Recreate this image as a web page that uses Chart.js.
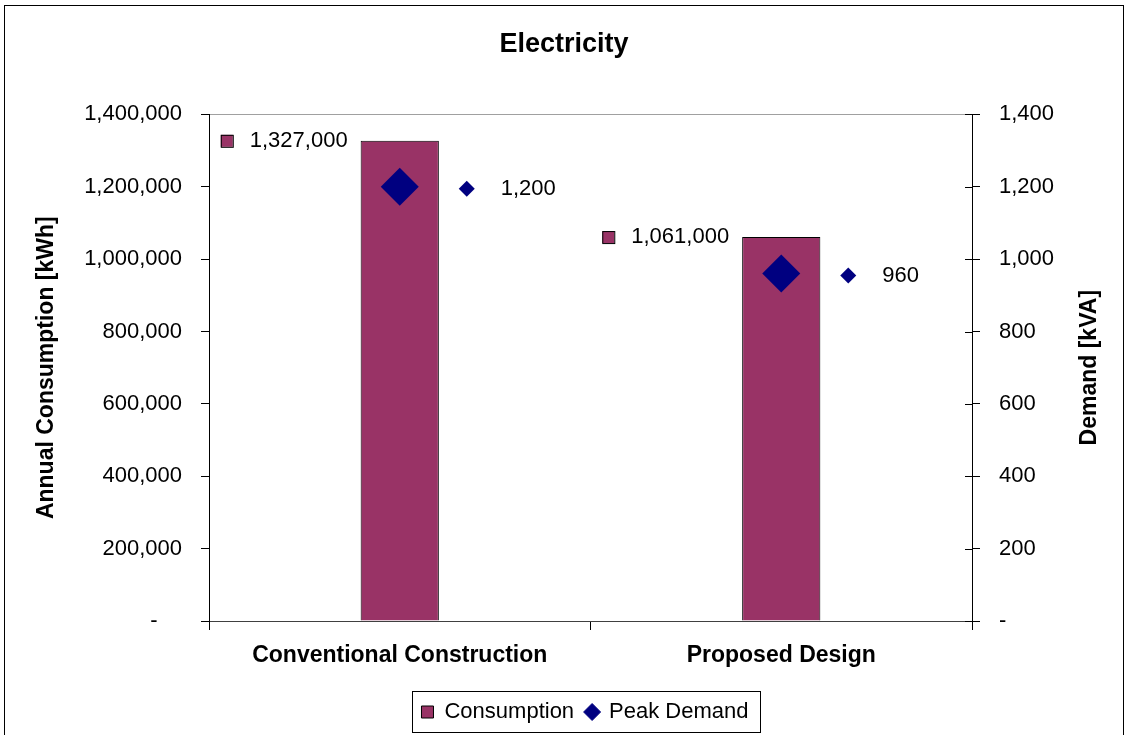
<!DOCTYPE html>
<html>
<head>
<meta charset="utf-8">
<title>Electricity</title>
<script src="https://cdn.jsdelivr.net/npm/chart.js@4.4.1/dist/chart.umd.min.js"></script>
<style>
  html, body { margin: 0; padding: 0; background: #fff; }
  #wrap { position: relative; width: 1128px; height: 735px; }
</style>
</head>
<body>
<div id="wrap"><canvas id="electricityChart"></canvas></div>
<script>
// --- Data ---
const categories = ["Conventional Construction", "Proposed Design"];
const consumption = [1327000, 1061000]; // kWh, left axis
const peakDemand = [1200, 960]; // kVA, right axis
const consumptionTicks = [0, 200000, 400000, 600000, 800000, 1000000, 1200000, 1400000];
const demandTicks = [0, 200, 400, 600, 800, 1000, 1200, 1400];

const barColor = "#993366";
const diamondColor = "#000080";
const fontFamily = "'Liberation Sans', Arial, sans-serif";

Chart.defaults.font.family = fontFamily;
Chart.defaults.color = "#000";

const fmt = (v) => Number(v).toLocaleString("en-US");

// Excel style labels with legend key, plus frame, right title and crossing ticks
const excelExtras = {
  id: "excelExtras",
  afterLayout(chart) {
    // nudge the legend to the right like the original
    chart.legend.left += 21;
    chart.legend.right += 21;
  },
  afterDatasetsDraw(chart) {
    const ctx = chart.ctx;
    ctx.save();
    ctx.font = "22px " + fontFamily;
    ctx.fillStyle = "#000";
    ctx.textBaseline = "middle";

    // consumption labels: key + value left of bar top
    chart.getDatasetMeta(0).data.forEach((bar, i) => {
      const textRight = bar.x - bar.width / 2 - 13;
      const text = fmt(consumption[i]);
      const w = ctx.measureText(text).width;
      ctx.textAlign = "right";
      ctx.fillStyle = "#000";
      ctx.fillText(text, textRight, bar.y);
      const kx = textRight - w - 23;
      ctx.fillStyle = barColor;
      ctx.fillRect(kx - 6, bar.y - 6, 12, 12);
      ctx.strokeStyle = "#000";
      ctx.lineWidth = 1;
      ctx.strokeRect(kx - 5.5, bar.y - 5.5, 12, 12);
    });

    // peak demand labels: key + value right of point
    chart.getDatasetMeta(1).data.forEach((pt, i) => {
      const cy = pt.y + 2;
      const kx = pt.x + 67;
      ctx.fillStyle = diamondColor;
      ctx.beginPath();
      ctx.moveTo(kx - 8, cy);
      ctx.lineTo(kx, cy - 8);
      ctx.lineTo(kx + 8, cy);
      ctx.lineTo(kx, cy + 8);
      ctx.closePath();
      ctx.fill();
      ctx.fillStyle = "#000";
      ctx.textAlign = "left";
      ctx.fillText(fmt(peakDemand[i]), pt.x + 101, cy);
    });
    ctx.restore();
  },
  afterDraw(chart) {
    const ctx = chart.ctx;
    const area = chart.chartArea;
    ctx.save();

    // outer chart frame
    ctx.strokeStyle = "#000";
    ctx.lineWidth = 1;
    ctx.strokeRect(4.5, 5.5, chart.width - 9, chart.height + 10);

    // crossing ticks on the right axis
    const y1 = chart.scales.y1;
    ctx.beginPath();
    y1.ticks.forEach((t) => {
      const py = Math.round(y1.getPixelForValue(t.value)) + 0.5;
      ctx.moveTo(area.right - 7, py);
      ctx.lineTo(area.right, py);
    });
    ctx.stroke();

    // right axis title, reading bottom to top
    ctx.font = "bold 23px " + fontFamily;
    ctx.fillStyle = "#000";
    ctx.textAlign = "center";
    ctx.textBaseline = "middle";
    ctx.translate(chart.width - 38, (area.top + area.bottom) / 2);
    ctx.rotate(-Math.PI / 2);
    ctx.fillText("Demand [kVA]", 0, 0);
    ctx.setTransform(1, 0, 0, 1, 0, 0);

    // legend frame
    const lg = chart.legend;
    const pad = lg.options.labels.padding;
    const rowW = lg.lineWidths[0];
    const x0 = (lg.left + pad + lg.right - rowW) / 2;
    const x1 = x0 + rowW - pad;
    ctx.strokeStyle = "#000";
    ctx.strokeRect(Math.round(x0 - 9) + 0.5, lg.top + 2.5, Math.round(x1 - x0 + 21), 41);
    ctx.restore();
  },
};

const ctx = document.getElementById("electricityChart");

new Chart(ctx, {
  data: {
    labels: categories,
    datasets: [
      {
        type: "bar",
        label: "Consumption",
        data: consumption,
        yAxisID: "y",
        backgroundColor: barColor,
        borderColor: "#000",
        borderWidth: 1,
        categoryPercentage: 1,
        barPercentage: 0.205,
        order: 1,
      },
      {
        type: "line",
        label: "Peak Demand",
        data: peakDemand,
        yAxisID: "y1",
        showLine: false,
        pointStyle: "rectRot",
        pointRadius: 19,
        pointHoverRadius: 19,
        pointBorderWidth: 0,
        backgroundColor: diamondColor,
        borderColor: diamondColor,
        order: 0,
      },
    ],
  },
  options: {
    responsive: true,
    maintainAspectRatio: false,
    animation: false,
    layout: { padding: { top: 0, left: 0, right: 0, bottom: 2 } },
    plugins: {
      title: {
        display: true,
        text: "Electricity",
        color: "#000",
        font: { size: 27, weight: "bold" },
        padding: { top: 28, bottom: 54 },
      },
      legend: {
        position: "bottom",
        labels: {
          usePointStyle: true,
          boxWidth: 12,
          boxHeight: 12,
          padding: 12,
          color: "#000",
          font: { size: 22 },
          generateLabels(chart) {
            const items = Chart.defaults.plugins.legend.labels.generateLabels(chart);
            items.sort((a, b) => a.datasetIndex - b.datasetIndex);
            items.forEach((item) => {
              const isBar = item.datasetIndex === 0;
              item.pointStyle = isBar ? "rect" : "rectRot";
              item.fillStyle = isBar ? barColor : diamondColor;
              item.strokeStyle = isBar ? "#000" : diamondColor;
              item.lineWidth = 1;
            });
            return items;
          },
        },
      },
      tooltip: { enabled: false },
    },
    scales: {
      x: {
        offset: true,
        grid: {
          offset: true,
          drawOnChartArea: false,
          tickLength: 9,
          tickColor: "#000",
        },
        border: { color: "#404040", width: 1 },
        ticks: {
          padding: 12,
          color: "#000",
          font: { size: 23, weight: "bold" },
        },
        afterFit(scale) {
          scale.height = 68;
        },
      },
      y: {
        position: "left",
        min: 0,
        max: consumptionTicks[consumptionTicks.length - 1],
        afterBuildTicks(scale) {
          scale.ticks = consumptionTicks.map((v) => ({ value: v }));
        },
        grid: {
          color: (c) =>
            c.tick && c.tick.value === consumptionTicks[consumptionTicks.length - 1]
              ? "#a0a0a0"
              : "rgba(0,0,0,0)",
          tickColor: "#000",
          tickLength: 8,
        },
        border: { color: "#000", width: 1 },
        ticks: {
          padding: 19,
          color: "#000",
          font: { size: 22 },
          callback: (v) => (v === 0 ? "-    " : fmt(v)),
        },
        title: {
          display: true,
          text: "Annual Consumption [kWh]",
          color: "#000",
          font: { size: 23, weight: "bold" },
          padding: { top: 33, bottom: 0 },
        },
        afterFit(scale) {
          scale.width = 209;
        },
      },
      y1: {
        position: "right",
        min: 0,
        max: demandTicks[demandTicks.length - 1],
        afterBuildTicks(scale) {
          scale.ticks = demandTicks.map((v) => ({ value: v }));
        },
        grid: {
          drawOnChartArea: false,
          tickColor: "#000",
          tickLength: 8,
        },
        border: { color: "#000", width: 1 },
        ticks: {
          padding: 19,
          color: "#000",
          font: { size: 22 },
          callback: (v) => (v === 0 ? "-" : fmt(v)),
        },
        afterFit(scale) {
          scale.width = 156;
        },
      },
    },
  },
  plugins: [excelExtras],
});
</script>
</body>
</html>
